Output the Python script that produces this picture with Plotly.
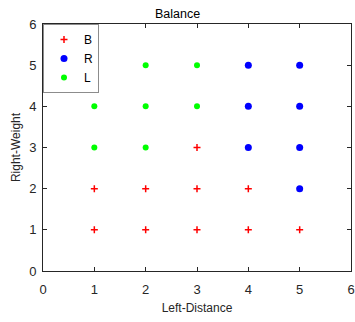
import plotly.graph_objects as go

# Points visible in the reference (Left-Distance, Right-Weight) by class
b_x = [1, 2, 3, 4, 5, 1, 2, 3, 4, 3]
b_y = [1, 1, 1, 1, 1, 2, 2, 2, 2, 3]
r_x = [5, 4, 5, 4, 5, 4, 5]
r_y = [2, 3, 3, 4, 4, 5, 5]
l_x = [1, 2, 1, 2, 3, 1, 2, 3]
l_y = [3, 3, 4, 4, 4, 5, 5, 5]

FONT = "Liberation Sans, Arial"

fig = go.Figure()
fig.add_trace(go.Scatter(x=b_x, y=b_y, mode="markers", name="B",
                         marker=dict(symbol="cross-thin", size=5, color="#ff0000",
                                     line=dict(width=1.5, color="#ff0000"))))
fig.add_trace(go.Scatter(x=r_x, y=r_y, mode="markers", name="R",
                         marker=dict(symbol="circle", size=7, color="#0000ff")))
fig.add_trace(go.Scatter(x=l_x, y=l_y, mode="markers", name="L",
                         marker=dict(symbol="circle", size=6, color="#00ff00")))

axis_common = dict(range=[0, 6], dtick=1, tick0=0, ticks="inside", ticklen=4,
                   tickcolor="#262626", showline=True, linecolor="#262626",
                   linewidth=1, mirror="allticks", showgrid=False, zeroline=False,
                   automargin=False,
                   tickfont=dict(family=FONT, size=13, color="#262626"))

fig.update_layout(
    width=355, height=322,
    margin=dict(l=43, r=4, t=24, b=51),
    paper_bgcolor="white", plot_bgcolor="white",
    title=dict(text="Balance", x=0.5, xanchor="center", y=1 - 14 / 322, yanchor="middle",
               font=dict(family=FONT, size=12.5, color="#000000")),
    xaxis=dict(axis_common, ticklabelstandoff=6,
               title=dict(text="Left-Distance", standoff=8,
                          font=dict(family=FONT, size=12, color="#262626"))),
    yaxis=dict(axis_common, ticklabelstandoff=3,
               title=dict(text="Right-Weight", standoff=5,
                          font=dict(family=FONT, size=12, color="#262626"))),
    legend=dict(x=0, y=1, xanchor="left", yanchor="top", bgcolor="white",
                bordercolor="#8c8c8c", borderwidth=1, itemwidth=30,
                entrywidth=50, entrywidthmode="pixels",
                tracegroupgap=0,
                font=dict(family=FONT, size=12, color="#000000")),
    showlegend=True,
)

fig.write_html("out.html", post_script="document.body.style.margin='0';",
               config={"displayModeBar": False})
